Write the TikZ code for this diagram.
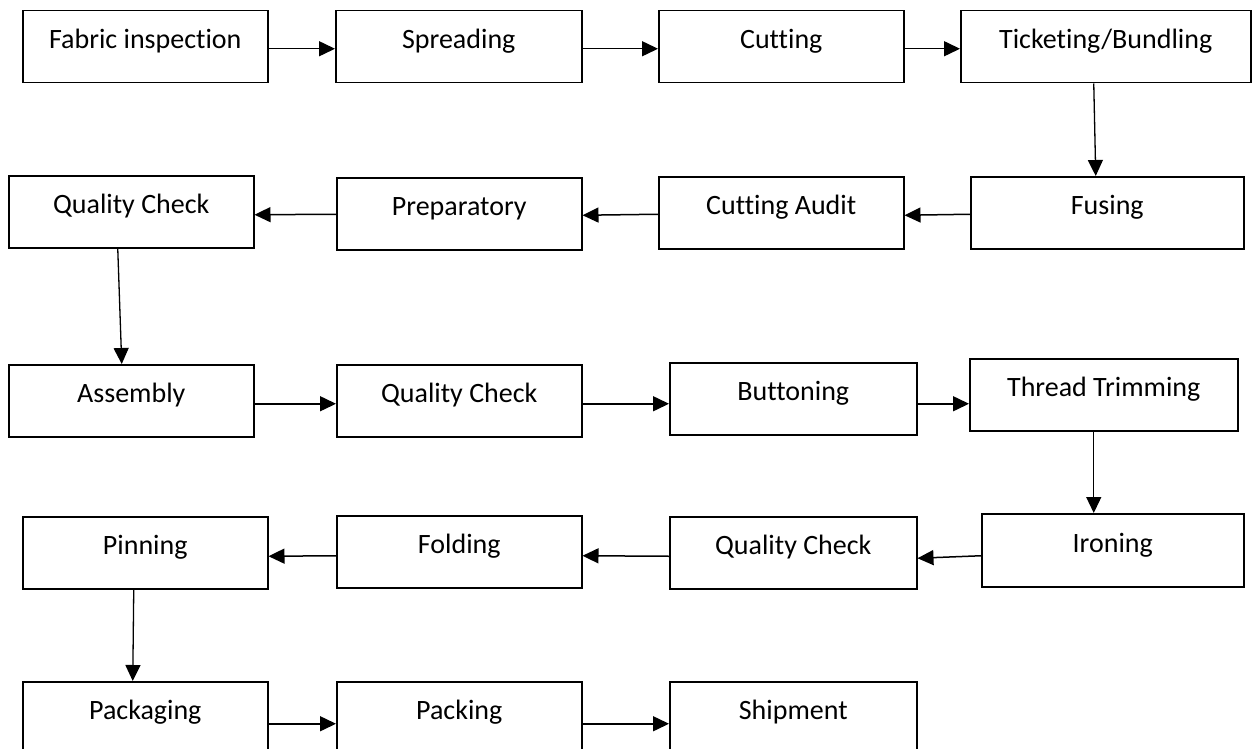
\documentclass[tikz,border=0pt]{standalone}
\usepackage{fontspec}
\setmainfont{Carlito}[Ligatures=NoCommon]
\usetikzlibrary{arrows.meta}
\tikzset{
  stepbox/.style={draw=black, line width=1.5pt, anchor=north west, inner xsep=0pt, inner ysep=0pt,
    text height=38pt, text depth=34pt, align=center, font=\fontsize{28}{34}\selectfont},
  flow/.style={line width=1.5pt, -{Triangle[length=16pt,width=15pt]}},
  vflow/.style={line width=1.3pt, -{Triangle[length=16pt,width=15pt]}}
}
\newcommand{\stepnode}[6]{% name, x1, y1, x2, y2, text
  \node[stepbox, minimum width={(#4-#2)*1pt}, minimum height={(#5-#3)*1pt}] (#1) at (#2,#3) {#6};}
\begin{document}
\begin{tikzpicture}[x=1pt,y=-1pt]
\clip (0,0) rectangle (1258,749);
\fill[white] (0,0) rectangle (1258,749);
% row 1
\stepnode{fab}{22}{10}{267}{82}{Fabric inspection}
\stepnode{spr}{335}{10}{581}{82}{Spreading}
\stepnode{cut}{658}{10}{903}{82}{Cutting}
\stepnode{tick}{960}{10}{1250}{82}{Ticketing/Bundling}
% row 2
\stepnode{qca}{8}{175}{253}{247}{Quality Check}
\stepnode{prep}{336}{177}{581}{248}{Preparatory}
\stepnode{audit}{658}{176}{903}{247}{Cutting Audit}
\stepnode{fus}{970}{176}{1243}{247}{Fusing}
% row 3
\stepnode{asm}{8}{364}{253}{436}{Assembly}
\stepnode{qcb}{336}{364}{581}{436}{Quality Check}
\stepnode{btn}{669}{362}{916}{434}{Buttoning}
\stepnode{tt}{969}{358}{1237}{430}{Thread Trimming}
% row 4
\stepnode{pin}{22}{516}{267}{587}{Pinning}
\stepnode{fold}{336}{515}{581}{587}{Folding}
\stepnode{qcc}{669}{516}{916}{587}{Quality Check}
\stepnode{iron}{981}{513}{1243}{586}{Ironing}
% row 5
\stepnode{pkg}{22}{681}{267}{753}{Packaging}
\stepnode{pck}{336}{681}{581}{753}{Packing}
\stepnode{ship}{669}{681}{916}{753}{Shipment}
% row 1 arrows
\draw[flow] ([yshift=-2pt]fab.east) -- ([yshift=-2pt]spr.west);
\draw[flow] ([yshift=-2pt]spr.east) -- ([yshift=-2pt]cut.west);
\draw[flow] ([yshift=-2pt]cut.east) -- ([yshift=-2pt]tick.west);
\draw[vflow] ([xshift=-12pt]tick.south) -- ([xshift=-11.5pt]fus.north);
% row 2 arrows
\draw[flow] ([yshift=-1.5pt]fus.west) -- ([yshift=-2.5pt]audit.east);
\draw[flow] ([yshift=-1.5pt]audit.west) -- ([yshift=-1.5pt]prep.east);
\draw[flow] ([yshift=-0.5pt]prep.west) -- ([yshift=-3pt]qca.east);
\draw[vflow] ([xshift=-13.5pt]qca.south) -- ([xshift=-9.5pt]asm.north);
% row 3 arrows
\draw[flow] ([yshift=-3pt]asm.east) -- ([yshift=-3pt]qcb.west);
\draw[flow] ([yshift=-3pt]qcb.east) -- ([yshift=-5pt]btn.west);
\draw[flow] ([yshift=-5pt]btn.east) -- ([yshift=-9pt]tt.west);
\draw[vflow] ([xshift=-10pt]tt.south) -- ([xshift=-19pt]iron.north);
% row 4 arrows
\draw[flow] ([yshift=-5.5pt]iron.west) -- ([yshift=-5.5pt]qcc.east);
\draw[flow] ([yshift=-3.5pt]qcc.west) -- ([yshift=-4pt]fold.east);
\draw[flow] ([yshift=-4pt]fold.west) -- ([yshift=-3.5pt]pin.east);
\draw[vflow] ([xshift=-11.5pt]pin.south) -- ([xshift=-12.5pt]pkg.north);
% row 5 arrows
\draw[flow] ([yshift=-6pt]pkg.east) -- ([yshift=-6pt]pck.west);
\draw[flow] ([yshift=-6pt]pck.east) -- ([yshift=-6pt]ship.west);
\end{tikzpicture}
\end{document}
